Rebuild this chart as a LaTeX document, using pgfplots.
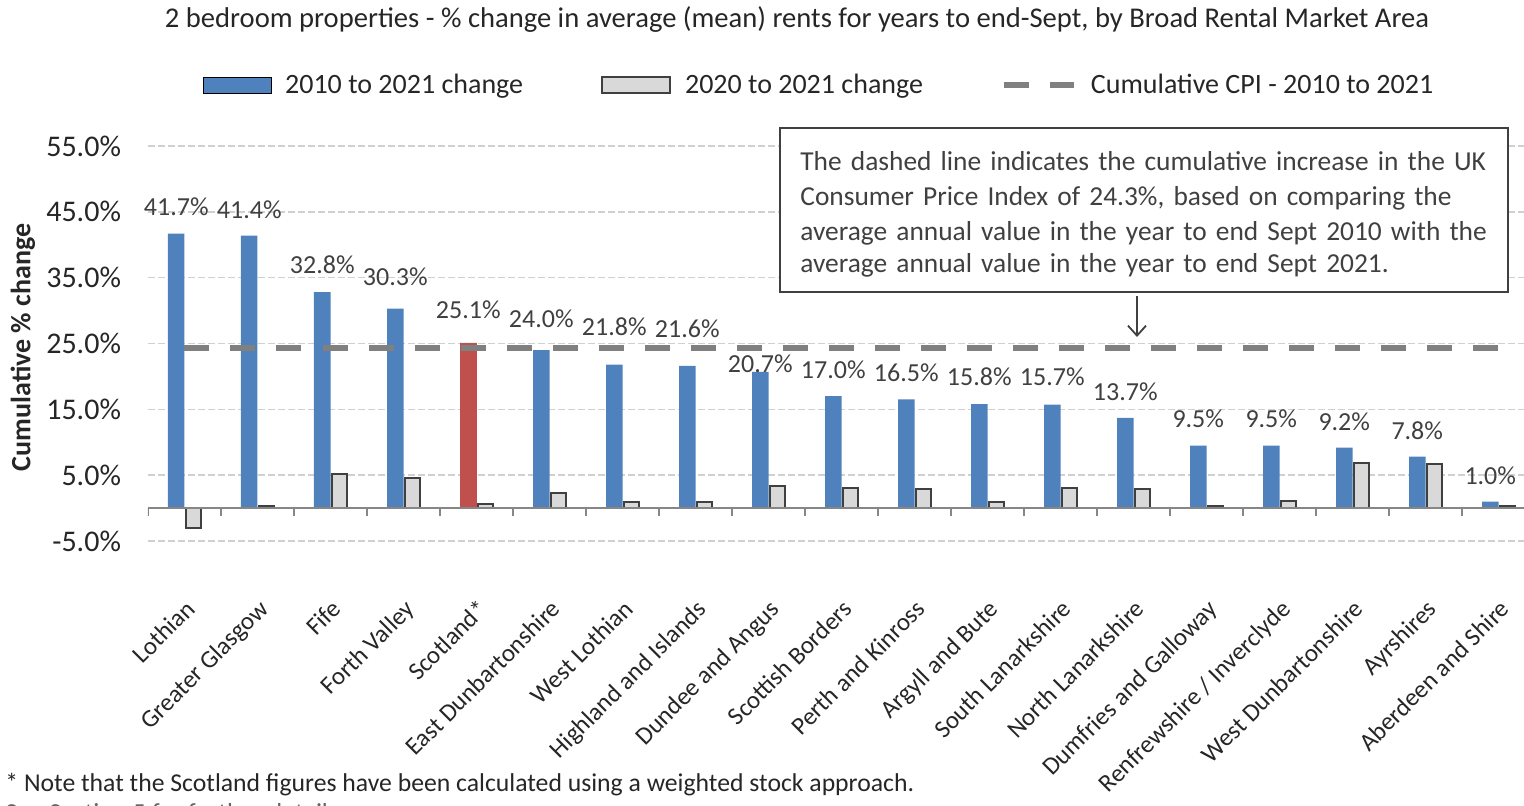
\documentclass[border=0pt]{standalone}
\usepackage{fontspec}
\setmainfont{Carlito}
\usepackage{pgfplots}
\pgfplotsset{compat=1.18}
\usetikzlibrary{arrows.meta}

\definecolor{cBlue}{HTML}{4F81BD}
\definecolor{cRed}{HTML}{C0504D}
\definecolor{cGrey}{HTML}{D9D9D9}
\definecolor{cEdge}{HTML}{404040}
\definecolor{cCPI}{HTML}{808080}
\definecolor{cAxis}{HTML}{868686}
\definecolor{cGrid}{HTML}{D0D0D0}
\definecolor{cText}{HTML}{404040}

\newcommand{\fs}[1]{\fontsize{#1}{1.2\dimexpr#1\relax}\selectfont}

\pgfplotsset{
  barlegend/.style={legend image code/.code={\draw[##1] (0bp,-4bp) rectangle (34bp,4bp); \path (39bp,0bp);}},
  linelegend/.style={legend image code/.code={\draw[##1] (0bp,0bp) -- (35bp,0bp); \path (40bp,0bp);}},
}

\begin{document}
\begin{tikzpicture}
\path[use as bounding box] (-74bp,-132.5bp) rectangle (688bp,270.5bp);
\begin{axis}[
  scale only axis, width=693.5bp, height=197.5bp,
  xmin=-0.5, xmax=18.5, ymin=-5, ymax=55,
  axis line style={draw=none}, major tick length=0pt,
  xtick={0,...,18},
  xticklabels={Lothian,Greater Glasgow,Fife,Forth Valley,Scotland*,East Dunbartonshire,West Lothian,Highland and Islands,Dundee and Angus,Scottish Borders,Perth and Kinross,Argyll and Bute,South Lanarkshire,North Lanarkshire,Dumfries and Galloway,Renfrewshire / Inverclyde,West Dunbartonshire,Ayrshires,Aberdeen and Shire},
  xticklabel style={yshift=-28.5bp, rotate=45, anchor=north east, inner sep=0pt, font=\fs{12.5bp}, text=black!85},
  ytick={-5,5,...,55},
  /pgf/number format/assume math mode=true,
  yticklabel={\pgfmathprintnumber[fixed,fixed zerofill,precision=1]{\tick}\%},
  yticklabel style={font=\fs{15bp}, text=black!85, xshift=-10bp},
  ymajorgrids, grid style={cGrid, dash pattern=on 3.5bp off 1.5bp, line width=0.75bp},
  ylabel={\bfseries Cumulative \% change},
  ylabel style={at={(rel axis cs:-0.0901,0.49)}, anchor=center, rotate=0, font=\fs{14bp}, text=black!85},
  legend columns=3,
  legend style={at={(0.4845,1.1544)}, anchor=center, draw=none, fill=none,
    font=\fs{14bp}, text=black!85,
    /tikz/every even column/.append style={column sep=37bp}},
]
% 2010 to 2021 change
\addplot[ybar, bar width=8.25bp, bar shift=-4.125bp, fill=cBlue, draw=none, barlegend]
  coordinates {(0,41.7) (1,41.4) (2,32.8) (3,30.3) (4,25.1) (5,24.0) (6,21.8) (7,21.6) (8,20.7) (9,17.0)
               (10,16.5) (11,15.8) (12,15.7) (13,13.7) (14,9.5) (15,9.5) (16,9.2) (17,7.8) (18,1.0)};
\addlegendentry{2010 to 2021 change}
% Scotland highlighted
\addplot[ybar, bar width=8.25bp, bar shift=-4.125bp, fill=cRed, draw=none, forget plot]
  coordinates {(4,25.1)};
% 2020 to 2021 change
\addplot[ybar, bar width=7.5bp, bar shift=4.5bp, fill=cGrey, draw=cEdge, line width=1bp, barlegend]
  coordinates {(0,-3.0) (1,0.35) (2,5.15) (3,4.5) (4,0.6) (5,2.25) (6,1.0) (7,0.85) (8,3.4) (9,3.0)
               (10,2.85) (11,1.0) (12,3.0) (13,2.85) (14,0.3) (15,1.1) (16,6.9) (17,6.7) (18,0.3)};
\addlegendentry{2020 to 2021 change}
% Cumulative CPI
\addplot[cCPI, line width=3bp, dash pattern=on 12.5bp off 10.5bp, linelegend]
  coordinates {(0,24.3) (1,24.3) (2,24.3) (3,24.3) (4,24.3) (5,24.3) (6,24.3) (7,24.3) (8,24.3) (9,24.3)
               (10,24.3) (11,24.3) (12,24.3) (13,24.3) (14,24.3) (15,24.3) (16,24.3) (17,24.3) (18,24.3)};
\addlegendentry{Cumulative CPI - 2010 to 2021}
% data labels of the 2010 to 2021 bars, at the heights where the source set them
\addplot[draw=none, mark=none, forget plot, point meta=explicit symbolic, nodes near coords,
  nodes near coords style={anchor=center, xshift=-4.125bp, inner sep=0pt, font=\fs{13bp}, text=cText}]
  coordinates {(0,45.7) [41.7\%] (1,45.3) [41.4\%] (2,36.9) [32.8\%] (3,35.1) [30.3\%] (4,30.1) [25.1\%]
               (5,28.7) [24.0\%] (6,27.5) [21.8\%] (7,27.3) [21.6\%] (8,21.9) [20.7\%] (9,21.0) [17.0\%]
               (10,20.5) [16.5\%] (11,19.9) [15.8\%] (12,19.9) [15.7\%] (13,17.6) [13.7\%] (14,13.5) [9.5\%]
               (15,13.5) [9.5\%] (16,13.1) [9.2\%] (17,11.7) [7.8\%] (18,4.9) [1.0\%]};
% category axis at zero
\draw[cAxis, line width=1bp] (axis cs:-0.5,0) -- (axis cs:18.5,0);
\pgfplotsinvokeforeach{-0.5,0.5,...,18.5}{\draw[cAxis, line width=1bp] (axis cs:#1,0) -- ([yshift=-4bp]axis cs:#1,0);}
\end{axis}

% title
\node[font=\fs{14.3bp}, text=black!85] at (324.5bp,260.5bp)
  {2 bedroom properties - \% change in average (mean) rents for years to end-Sept, by Broad Rental Market Area};

% callout
\draw[cEdge, line width=1bp, fill=white] (316bp,124.5bp) rectangle (680bp,206.5bp);
\node[anchor=north west, align=left, font=\fs{13.7bp}, text=cText, inner sep=0pt,
  text width=356bp] at (326bp,195bp) {%
  \baselineskip=17.4bp
  The dashed line indicates the cumulative increase in the UK\\
  Consumer Price Index of 24.3\%, based on comparing the\\
  average annual value in the year to end Sept 2010 with the\\
  average annual value in the year to end Sept 2021.};
\draw[cEdge, line width=0.9bp, -{Straight Barb[length=5bp,width=9bp]}] (494.5bp,122.5bp) -- (494.5bp,102bp);

% footnotes
\node[anchor=west, font=\fs{12.85bp}, text=black!85, inner sep=0pt] at (-71.5bp,-122bp)
  {* Note that the Scotland figures have been calculated using a weighted stock approach.};
\node[anchor=base west, font=\fs{13bp}, text=black!60, inner sep=0pt] at (-71.5bp,-140bp)
  {See Section 5 for further details.};
\end{tikzpicture}
\end{document}
